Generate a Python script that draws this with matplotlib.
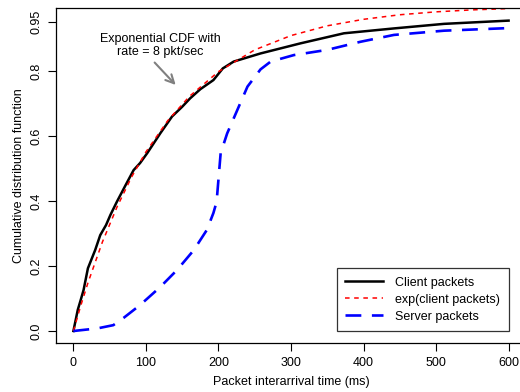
import matplotlib
matplotlib.use("Agg")
import matplotlib.pyplot as plt

plt.rcParams['font.family'] = ['Liberation Sans', 'DejaVu Sans']

client_t = [0, 6, 10, 14, 20, 30, 37, 45, 51, 60, 72, 83, 92, 102, 120, 136, 150,
            161, 175, 193, 206, 221, 258, 313, 373, 442, 511, 600]
client_v = [0.0, 0.065, 0.095, 0.126, 0.193, 0.249, 0.295, 0.326, 0.357, 0.398,
            0.449, 0.495, 0.517, 0.548, 0.609, 0.66, 0.69, 0.716, 0.744, 0.772,
            0.808, 0.829, 0.854, 0.885, 0.916, 0.931, 0.945, 0.955]

# exponential fit
exp_t = [0, 10, 20, 40, 60, 80, 100, 130, 160, 200, 250, 300, 350, 400, 450, 500, 550, 600]
exp_v = [0.0, 0.077, 0.148, 0.274, 0.381, 0.473, 0.551, 0.647, 0.722, 0.798,
         0.865, 0.909, 0.939, 0.959, 0.973, 0.982, 0.988, 0.992]

# server packets
server_t = [0, 33, 55, 69, 92, 120, 143, 166, 184, 193, 197, 198, 203, 212, 226,
            240, 258, 272, 304, 350, 396, 442, 511, 600]
server_v = [0.0, 0.008, 0.018, 0.04, 0.08, 0.136, 0.188, 0.249, 0.311, 0.363,
            0.394, 0.413, 0.547, 0.608, 0.68, 0.752, 0.805, 0.829, 0.849, 0.865,
            0.89, 0.911, 0.924, 0.932]

x_ticks = [0, 100, 200, 300, 400, 500, 600]
y_ticks = [0.0, 0.2, 0.4, 0.6, 0.8, 0.95]
y_tick_labels = ['0.0', '0.2', '0.4', '0.6', '0.8', '0.95']

W, H = 520, 392
fig = plt.figure(figsize=(W / 100, H / 100), dpi=100)
# right edge of the box falls just outside the picture, as in the original
ax = fig.add_axes([56 / W, (H - 343) / H, 470 / W, 335 / H])

ax.plot(client_t, client_v, color='black', lw=1.8, label='Client packets')
ax.plot(exp_t, exp_v, color='red', lw=1.1, ls=(0, (3, 3)), label='exp(client packets)')
ax.plot(server_t, server_v, color='blue', lw=1.9, ls=(0, (6, 4)), label='Server packets')

ax.set_xlim(-24, 624)
ax.set_ylim(-0.0369, 0.9938)
ax.set_xticks(x_ticks)
ax.set_yticks(y_ticks)
ax.set_yticklabels(y_tick_labels, rotation=90, va='center')
ax.tick_params(direction='out', length=6, width=0.8, labelsize=9, pad=4)

for s in ax.spines.values():
    s.set_linewidth(0.9)

ax.set_xlabel('Packet interarrival time (ms)', fontsize=9, labelpad=5)
ax.set_ylabel('Cumulative distribution function', fontsize=9, labelpad=4)

ax.text(120, 0.878, 'Exponential CDF with\nrate = 8 pkt/sec',
        ha='center', va='center', fontsize=9, linespacing=1.1)
ax.annotate('', xy=(141, 0.757), xytext=(112, 0.826),
            arrowprops=dict(arrowstyle='->,head_length=0.6,head_width=0.3',
                            color='gray', lw=1.5, shrinkA=0, shrinkB=0))

leg = ax.legend(loc='lower right', bbox_to_anchor=(600 + 0.5, -0.001), bbox_transform=ax.transData,
                fontsize=9, frameon=True, fancybox=False, edgecolor='black',
                handlelength=3.0, borderpad=0.7, labelspacing=0.4, handletextpad=1.0,
                borderaxespad=0)
leg.get_frame().set_linewidth(0.9)

fig.savefig('out.png', dpi=100)
